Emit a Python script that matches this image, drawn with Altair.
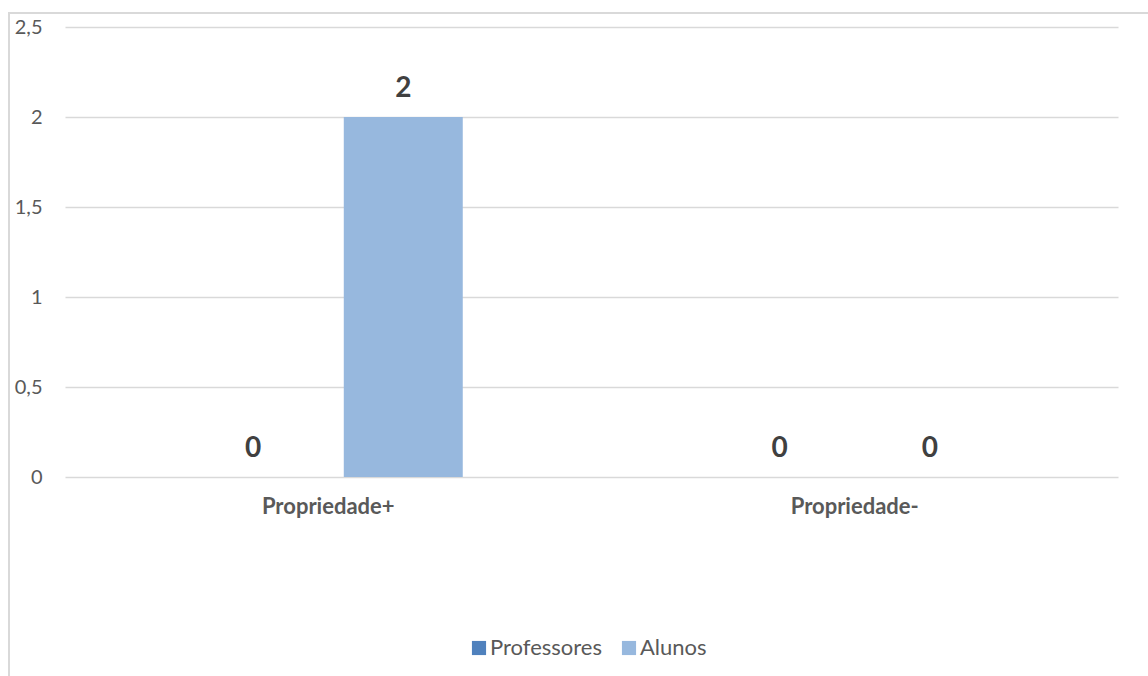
import altair as alt
import pandas as pd

categories = ["Propriedade+", "Propriedade-"]
series = ["Professores", "Alunos"]
professores = [0, 0]
alunos = [2, 0]
colors = ["#4F81BD", "#97B8DE"]
y_ticks = [0, 0.5, 1, 1.5, 2, 2.5]

rows = []
for i, c in enumerate(categories):
    rows.append({"categoria": c, "serie": series[0], "valor": professores[i]})
    rows.append({"categoria": c, "serie": series[1], "valor": alunos[i]})
df = pd.DataFrame(rows)

base = alt.Chart(df).encode(
    x=alt.X(
        "categoria:N",
        sort=categories,
        title=None,
        scale=alt.Scale(paddingInner=0, paddingOuter=0),
        axis=alt.Axis(
            labelAngle=0,
            domain=False,
            ticks=False,
            grid=False,
            labelFont="Lato",
            labelFontWeight="bold",
            labelFontSize=22,
            labelColor="#595959",
            labelPadding=19,
        ),
    ),
    xOffset=alt.XOffset(
        "serie:N",
        sort=series,
        scale=alt.Scale(domain=series, paddingInner=0.207, paddingOuter=0.858),
    ),
    y=alt.Y(
        "valor:Q",
        title=None,
        scale=alt.Scale(domain=[0, 2.5], nice=False, zero=True),
        axis=alt.Axis(
            values=y_ticks,
            labelExpr="replace(toString(datum.value), '.', ',')",
            domain=False,
            ticks=False,
            grid=True,
            gridColor="#D9D9D9",
            gridWidth=1.5,
            labelFont="Lato",
            labelFontSize=20,
            labelColor="#595959",
            labelPadding=23,
        ),
    ),
)

bars = base.mark_bar().encode(
    color=alt.Color(
        "serie:N",
        sort=series,
        scale=alt.Scale(domain=series, range=colors),
        legend=alt.Legend(
            title=None,
            orient="none",
            direction="horizontal",
            legendX=403,
            legendY=610,
            symbolType="square",
            symbolSize=200,
            symbolStrokeWidth=0,
            labelFont="Lato",
            labelFontSize=22,
            labelColor="#595959",
            labelOffset=0,
            columnPadding=16,
        ),
    )
)

labels = base.mark_text(
    dy=-20,
    baseline="alphabetic",
    font="Lato",
    fontWeight="bold",
    fontSize=28,
    color="#404040",
).encode(text="valor:Q")

frame = alt.Chart(pd.DataFrame({"a": [0]})).mark_rect(
    fill="transparent", stroke="#D9D9D9", strokeWidth=2
).encode(
    x=alt.value(-56),
    x2=alt.value(1110),
    y=alt.value(-14),
    y2=alt.value(700),
)

chart = (
    alt.layer(frame, bars, labels)
    .properties(
        width=1053,
        height=450,
        padding={"left": 65, "top": 27, "right": 30, "bottom": 199},
        autosize=alt.AutoSizeParams(type="none"),
        background="white",
    )
    .configure(font="Lato")
    .configure_view(stroke="transparent")
)

chart.save("out.html", embed_options={"renderer": "svg", "actions": False})
